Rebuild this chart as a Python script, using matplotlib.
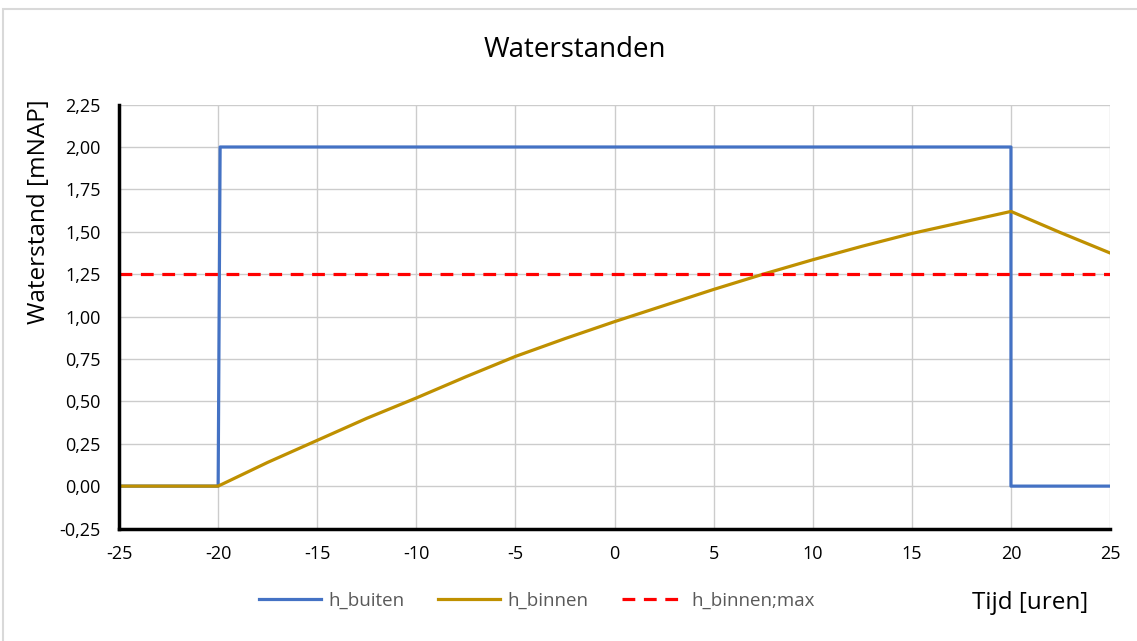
import matplotlib.pyplot as plt
import numpy as np
from matplotlib.patches import Rectangle

# Tijdstippen en waterstanden
tijd_buiten = [-25, -20, -19.9, 20, 20, 25]
h_buiten = [0.0, 0.0, 2.0, 2.0, 0.0, 0.0]

tijd_binnen = [-25, -20, -17.5, -15, -12.5, -10, -7.5, -5, -2.5, 0,
               2.5, 5, 7.5, 10, 12.5, 15, 17.5, 20, 22.5, 25]
h_binnen = [0.0, 0.0, 0.14, 0.27, 0.40, 0.52, 0.645, 0.765, 0.87, 0.97,
            1.065, 1.16, 1.25, 1.335, 1.415, 1.49, 1.555, 1.62, 1.495, 1.375]

h_binnen_max = 1.25

x_ticks = [-25, -20, -15, -10, -5, 0, 5, 10, 15, 20, 25]
y_ticks = [-0.25, 0.0, 0.25, 0.5, 0.75, 1.0, 1.25, 1.5, 1.75, 2.0, 2.25]

plt.rcParams['font.family'] = ['Open Sans', 'DejaVu Sans']
plt.rcParams['axes.unicode_minus'] = False

fig = plt.figure(figsize=(11.37, 6.41), dpi=100)
ax = fig.add_axes([0.1047, 0.1755, 0.8716, 0.6613])

# Lichtgrijze rand rond de grafiek (rechts en onder afgesneden)
fig.patches.append(Rectangle((3 / 1137, -0.05), 1.1, 1 - 9 / 641 + 0.05,
                             transform=fig.transFigure, fill=False,
                             edgecolor='#d9d9d9', linewidth=1.5))

ax.plot(tijd_buiten, h_buiten, color='#4472C4', linewidth=2.3, label='h_buiten')
ax.plot(tijd_binnen, h_binnen, color='#BF9000', linewidth=2.3, label='h_binnen')
ax.plot([-25, 25], [h_binnen_max, h_binnen_max], color='#FF0000', linewidth=2.3,
        linestyle=(0, (4, 2.7)), label='h_binnen;max')

ax.set_xlim(-25, 25)
ax.set_ylim(-0.25, 2.25)
ax.set_xticks(x_ticks)
ax.set_yticks(y_ticks)
ax.set_yticklabels([f"{v:.2f}".replace('.', ',') for v in y_ticks])
ax.tick_params(length=0, labelsize=13, colors='#000000')
ax.tick_params(axis='y', pad=13)
ax.tick_params(axis='x', pad=12)
ax.grid(True, color='#cccccc', linewidth=1)
ax.set_axisbelow(True)

for kant in ['top', 'right']:
  ax.spines[kant].set_visible(False)
for kant in ['left', 'bottom']:
  ax.spines[kant].set_linewidth(2.5)
  ax.spines[kant].set_color('black')

# As-titel staat hoger dan het midden, net als in Excel
fig.text(0.034, 1 - 212 / 641, 'Waterstand [mNAP]', rotation=90,
         ha='center', va='center', fontsize=17.5)
fig.text(0.506, 1 - 50 / 641, 'Waterstanden', ha='center', va='center', fontsize=20)
fig.text(1030 / 1137, 1 - 603 / 641, 'Tijd [uren]', ha='center', va='center', fontsize=17.5)

leg = fig.legend(loc='center', bbox_to_anchor=(537 / 1137, 1 - 601 / 641), ncol=3,
                 frameon=False, fontsize=13.5, handlelength=3.3, columnspacing=1.8,
                 handletextpad=0.4)
for t in leg.get_texts():
  t.set_color('#595959')

fig.savefig('out.png', dpi=100)
